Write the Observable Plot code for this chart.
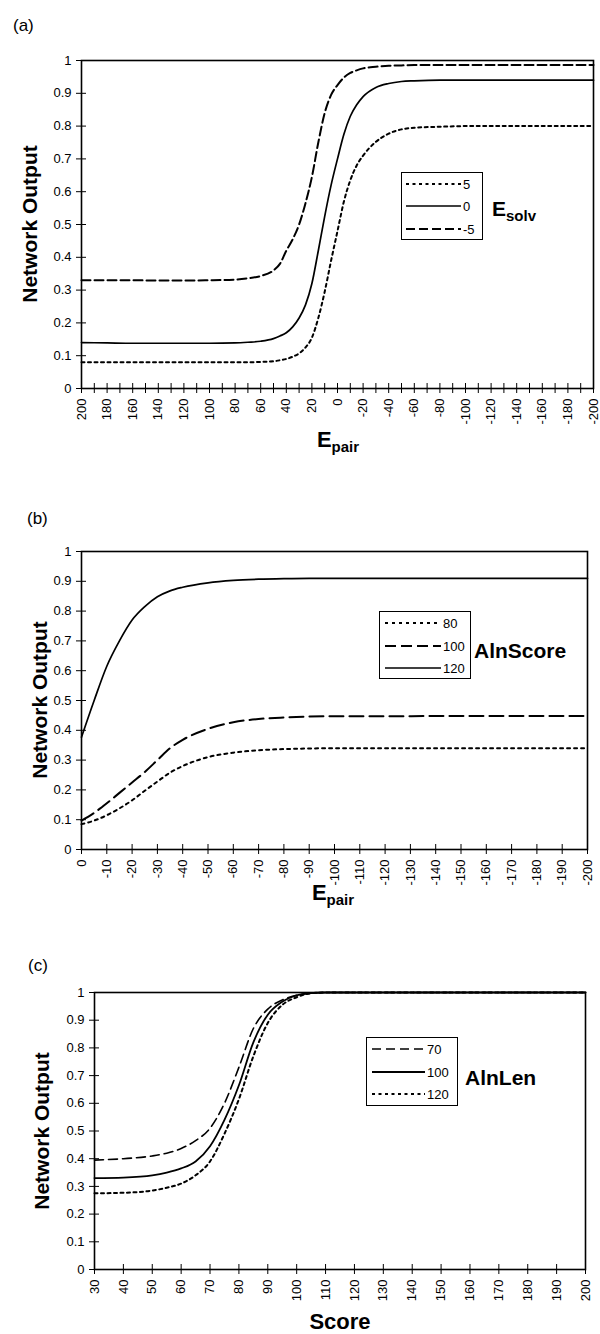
<!DOCTYPE html>
<html><head><meta charset="utf-8">
<script src="https://cdn.jsdelivr.net/npm/d3@7"></script>
<script src="https://cdn.jsdelivr.net/npm/@observablehq/plot@0.6"></script>
<style>
body{margin:0;background:#fff;}
#page{position:relative;width:600px;height:1334px;font-family:"Liberation Sans",Arial,Helvetica,sans-serif;color:#000;overflow:hidden;background:#fff}
.abs{position:absolute}
.plab{position:absolute;font-size:17px;line-height:1}
.ytitle{position:absolute;font-weight:bold;font-size:21px;line-height:1;white-space:nowrap;transform:translate(-50%,-50%) rotate(-90deg)}
.xtitle{position:absolute;font-weight:bold;font-size:22px;line-height:1;white-space:nowrap;transform:translateX(-50%)}
.ltitle{position:absolute;font-weight:bold;font-size:21px;line-height:1;white-space:nowrap;transform:translateY(-50%)}
.sb{font-size:15px;vertical-align:-5px}
</style>
</head><body><div id="page"></div>
<script>
// ---------- data ----------
const yTicks = [0, 0.1, 0.2, 0.3, 0.4, 0.5, 0.6, 0.7, 0.8, 0.9, 1];

// Panel (a): Network output vs E_pair for E_solv = 5, 0, -5
const epairA = [200,180,160,140,120,100,80,70,60,50,45,40,35,30,25,20,15,10,5,0,-5,-10,-15,-20,-30,-40,-50,-60,-80,-100,-120,-140,-160,-180,-200];
const esolvPos5 = [.08,.08,.08,.08,.08,.08,.08,.08,.081,.083,.086,.09,.097,.107,.125,.155,.215,.295,.39,.48,.57,.635,.68,.71,.752,.777,.79,.795,.798,.8,.8,.8,.8,.8,.8];
const esolv0    = [.14,.139,.138,.138,.138,.138,.139,.141,.144,.152,.16,.17,.188,.215,.255,.32,.42,.525,.62,.70,.775,.83,.865,.89,.918,.93,.936,.938,.94,.94,.94,.94,.94,.94,.94];
const esolvNeg5 = [.33,.33,.33,.329,.329,.33,.332,.336,.343,.36,.38,.42,.455,.50,.565,.645,.75,.84,.895,.925,.948,.962,.97,.976,.981,.984,.985,.986,.986,.986,.986,.986,.986,.986,.986];
const xTicksA = d3.range(200, -201, -10);
const legendA = ["5", "0", "-5"];

// Panel (b): Network output vs E_pair for AlnScore = 80, 100, 120
const epairB = [0,-5,-10,-15,-20,-25,-30,-35,-40,-50,-60,-70,-80,-90,-100,-120,-140,-160,-180,-200];
const aln80  = [.085,.097,.115,.138,.165,.197,.228,.258,.28,.31,.325,.333,.337,.339,.34,.34,.34,.34,.34,.34];
const aln100 = [.097,.123,.155,.19,.225,.26,.30,.34,.368,.405,.427,.438,.443,.446,.447,.447,.448,.448,.448,.448];
const aln120 = [.377,.50,.615,.70,.77,.815,.848,.868,.88,.895,.903,.907,.909,.91,.91,.91,.91,.91,.91,.91];
const xTicksB = d3.range(0, -201, -10);
const legendB = ["80", "100", "120"];

// Panel (c): Network output vs Score for AlnLen = 70, 100, 120
const scoreC = [30,40,50,55,60,65,70,75,80,85,90,95,100,105,110,120,130,140,150,160,170,180,190,200];
const len70  = [.395,.40,.41,.42,.437,.465,.51,.60,.73,.87,.94,.973,.99,.998,1,1,1,1,1,1,1,1,1,1];
const len100 = [.33,.332,.34,.35,.365,.39,.445,.54,.665,.82,.92,.967,.99,.998,1,1,1,1,1,1,1,1,1,1];
const len120 = [.275,.277,.285,.295,.31,.34,.39,.49,.615,.77,.89,.955,.983,.997,1,1,1,1,1,1,1,1,1,1];
const xTicksC = d3.range(30, 201, 10);
const legendC = ["70", "100", "120"];

// ---------- drawing ----------
const page = document.getElementById("page");
const DOT = "3,3.5", DASH = "9,4";

function panel({top, height, mt, mb, ml, mr, xDomain, xTicks, xFmt, xs, series}) {
  const rows = xs.map((x, i) => Object.fromEntries([["x", x], ...series.map(s => [s.key, s.values[i]])]));
  const svg = Plot.plot({
    width: 600, height,
    marginTop: mt, marginBottom: mb, marginLeft: ml, marginRight: mr,
    x: {domain: xDomain, label: null},
    y: {domain: [0, 1], label: null},
    style: {fontFamily: '"Liberation Sans", Arial, sans-serif', fontSize: "13px", color: "#000", background: "transparent", overflow: "visible"},
    marks: [
      ...series.map(s => Plot.line(rows, {x: "x", y: s.key, stroke: "#000", strokeWidth: s.w, strokeDasharray: s.dash, curve: "monotone-x"})),
      Plot.frame({stroke: "#000", strokeWidth: 1.6}),
      Plot.axisY({ticks: yTicks, tickSize: 10, dx: 5, tickPadding: 5, tickFormat: d => String(d), label: null, fontSize: 13}),
      Plot.axisX({ticks: xTicks, tickSize: 10, dy: -5, tickPadding: 5, tickRotate: -90, tickFormat: xFmt, label: null, fontSize: 13})
    ]
  });
  svg.style.position = "absolute";
  svg.style.left = "0px";
  svg.style.top = top + "px";
  page.appendChild(svg);
}

function addLegend({left, top, w, h, rows, sx0, sx1, lx}) {
  const svg = d3.select(page).append("svg").attr("class", "abs")
    .style("left", left + "px").style("top", top + "px")
    .attr("width", w).attr("height", h).style("overflow", "visible");
  svg.append("rect").attr("x", 0.5).attr("y", 0.5).attr("width", w - 1).attr("height", h - 1)
    .attr("fill", "#fff").attr("stroke", "#000").attr("stroke-width", 1);
  rows.forEach(r => {
    svg.append("line").attr("x1", sx0).attr("x2", sx1).attr("y1", r.y).attr("y2", r.y)
      .attr("stroke", "#000").attr("stroke-width", r.w).attr("stroke-dasharray", r.dash || null);
    svg.append("text").attr("x", lx).attr("y", r.y).attr("dy", "0.35em")
      .attr("font-size", 13).attr("font-family", '"Liberation Sans", Arial, sans-serif').text(r.label);
  });
}

function html(cls, left, top, content) {
  const d = document.createElement("div");
  d.className = cls;
  d.style.left = left + "px";
  d.style.top = top + "px";
  d.innerHTML = content;
  page.appendChild(d);
}

// (a)
panel({
  top: 0, height: 440, mt: 60, mb: 52, ml: 81, mr: 7,
  xDomain: [200, -200], xTicks: xTicksA, xFmt: d => (d % 20 === 0 ? String(d) : ""),
  xs: epairA,
  series: [
    {key: "p5", values: esolvPos5, w: 2, dash: DOT},
    {key: "z0", values: esolv0, w: 1.7},
    {key: "m5", values: esolvNeg5, w: 2, dash: DASH}
  ]
});
// (b)
panel({
  top: 500, height: 400, mt: 51, mb: 51, ml: 81, mr: 13,
  xDomain: [0, -200], xTicks: xTicksB, xFmt: d => String(d),
  xs: epairB,
  series: [
    {key: "s80", values: aln80, w: 2, dash: "3,4"},
    {key: "s100", values: aln100, w: 2, dash: "14,6"},
    {key: "s120", values: aln120, w: 1.7}
  ]
});
// (c)
panel({
  top: 960, height: 340, mt: 32, mb: 31, ml: 94, mr: 15,
  xDomain: [30, 200], xTicks: xTicksC, xFmt: d => String(d),
  xs: scoreC,
  series: [
    {key: "l70", values: len70, w: 1.6, dash: "9,5"},
    {key: "l100", values: len100, w: 1.8},
    {key: "l120", values: len120, w: 2, dash: DOT}
  ]
});

// legends
addLegend({left: 401, top: 172, w: 82, h: 68, sx0: 5, sx1: 60, lx: 62, rows: [
  {y: 12, w: 2, dash: DOT, label: legendA[0]},
  {y: 34, w: 1.7, label: legendA[1]},
  {y: 57, w: 2.2, dash: DASH, label: legendA[2]}
]});
addLegend({left: 379, top: 611, w: 92, h: 68, sx0: 6, sx1: 62, lx: 64, rows: [
  {y: 12, w: 2, dash: "3,4", label: legendB[0]},
  {y: 35, w: 2, dash: "11,5", label: legendB[1]},
  {y: 57, w: 1.7, label: legendB[2]}
]});
addLegend({left: 366, top: 1037, w: 92, h: 69, sx0: 6, sx1: 59, lx: 61, rows: [
  {y: 12, w: 1.6, dash: "9,5", label: legendC[0]},
  {y: 35, w: 1.8, label: legendC[1]},
  {y: 57, w: 2, dash: DOT, label: legendC[2]}
]});

// titles and labels
html("plab", 13, 17, "(a)");
html("plab", 27, 510, "(b)");
html("plab", 28, 957, "(c)");

html("ytitle", 29, 224, "Network Output");
html("ytitle", 39, 700, "Network Output");
html("ytitle", 41, 1131, "Network Output");

html("xtitle", 338, 429, 'E<span class="sb">pair</span>');
html("xtitle", 333, 882, 'E<span class="sb">pair</span>');
html("xtitle", 340, 1311, "Score");

html("ltitle", 492, 210, 'E<span class="sb">solv</span>');
html("ltitle", 474, 650, "AlnScore");
html("ltitle", 465, 1077, "AlnLen");
</script>
</body></html>
